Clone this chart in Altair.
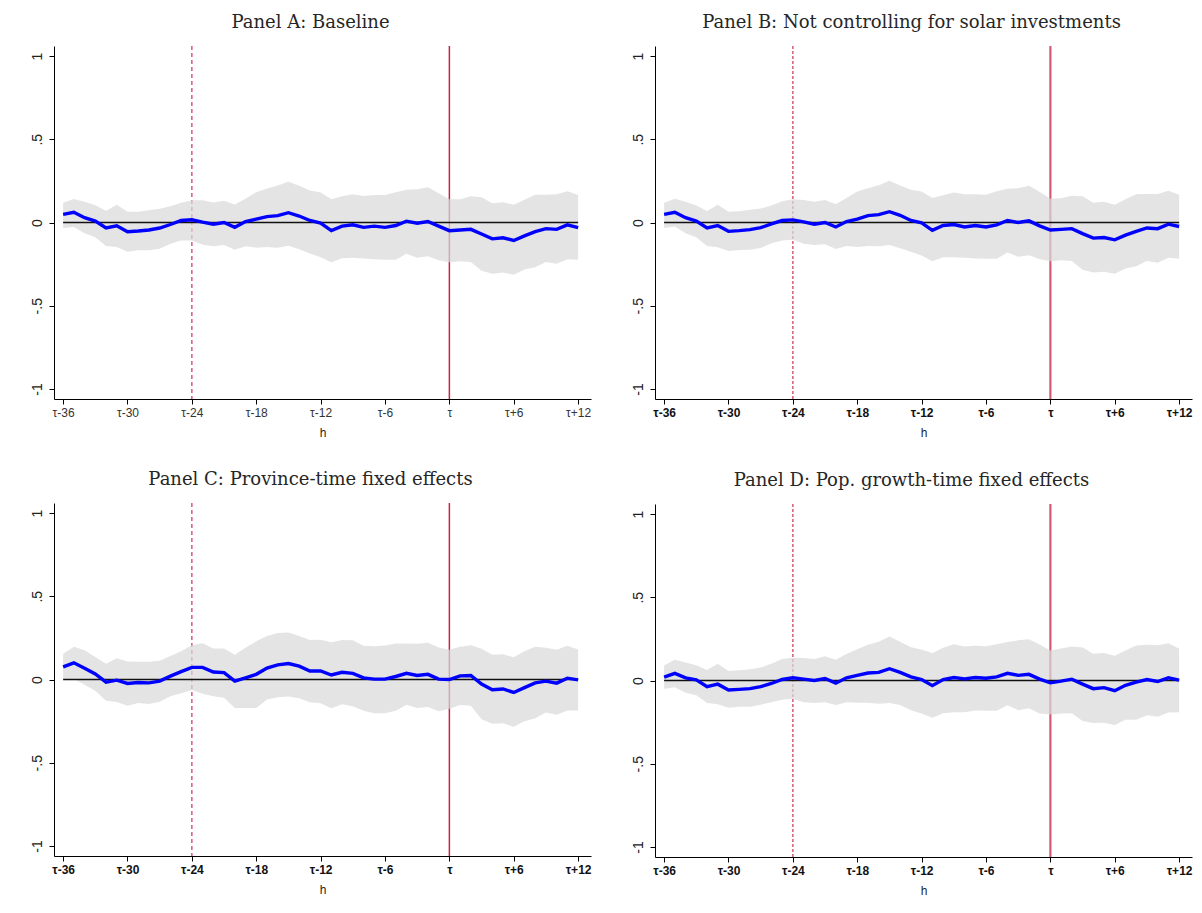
import altair as alt
import pandas as pd

# Horizon in months relative to the event month tau
h = list(range(-36, 13))

# Panel A: Baseline
a_est = [0.049, 0.061, 0.029, 0.008, -0.033, -0.020, -0.055, -0.051, -0.045, -0.033,
         -0.012, 0.012, 0.016, 0.002, -0.010, 0.000, -0.029, 0.006, 0.020, 0.035,
         0.041, 0.059, 0.039, 0.012, -0.004, -0.049, -0.022, -0.014, -0.029, -0.022,
         -0.029, -0.018, 0.008, -0.004, 0.006, -0.022, -0.049, -0.045, -0.041, -0.069,
         -0.098, -0.092, -0.108, -0.080, -0.055, -0.037, -0.041, -0.014, -0.031]
a_hi = [0.118, 0.141, 0.124, 0.104, 0.071, 0.106, 0.065, 0.065, 0.073, 0.082,
        0.098, 0.118, 0.133, 0.133, 0.120, 0.131, 0.108, 0.143, 0.182, 0.204,
        0.222, 0.245, 0.220, 0.192, 0.180, 0.139, 0.157, 0.169, 0.159, 0.165,
        0.165, 0.182, 0.196, 0.200, 0.212, 0.176, 0.139, 0.139, 0.157, 0.151,
        0.116, 0.122, 0.106, 0.137, 0.167, 0.167, 0.169, 0.188, 0.165]
a_lo = [-0.033, -0.027, -0.065, -0.088, -0.141, -0.147, -0.176, -0.167, -0.167, -0.157,
        -0.127, -0.108, -0.108, -0.133, -0.143, -0.135, -0.163, -0.143, -0.151, -0.147,
        -0.151, -0.139, -0.161, -0.186, -0.208, -0.239, -0.214, -0.212, -0.216, -0.220,
        -0.224, -0.224, -0.188, -0.212, -0.202, -0.227, -0.239, -0.233, -0.237, -0.290,
        -0.308, -0.300, -0.314, -0.282, -0.269, -0.237, -0.247, -0.220, -0.224]

# Panel B: Not controlling for solar investments
b_est = [0.049, 0.061, 0.029, 0.008, -0.033, -0.018, -0.053, -0.049, -0.043, -0.031,
         -0.008, 0.012, 0.016, 0.004, -0.010, 0.000, -0.027, 0.006, 0.020, 0.041,
         0.047, 0.065, 0.043, 0.012, -0.002, -0.047, -0.018, -0.012, -0.027, -0.018,
         -0.027, -0.014, 0.012, 0.000, 0.010, -0.020, -0.045, -0.041, -0.037, -0.067,
         -0.094, -0.090, -0.104, -0.076, -0.053, -0.033, -0.037, -0.010, -0.024]
b_hi = [0.118, 0.143, 0.124, 0.102, 0.069, 0.106, 0.065, 0.067, 0.076, 0.084,
        0.102, 0.127, 0.139, 0.135, 0.124, 0.135, 0.110, 0.147, 0.186, 0.206,
        0.224, 0.251, 0.222, 0.196, 0.186, 0.147, 0.163, 0.180, 0.169, 0.169,
        0.167, 0.188, 0.202, 0.206, 0.220, 0.184, 0.143, 0.145, 0.161, 0.157,
        0.118, 0.124, 0.106, 0.139, 0.169, 0.171, 0.171, 0.190, 0.167]
b_lo = [-0.033, -0.024, -0.065, -0.088, -0.141, -0.149, -0.171, -0.165, -0.163, -0.153,
        -0.124, -0.108, -0.104, -0.127, -0.135, -0.131, -0.159, -0.141, -0.147, -0.141,
        -0.143, -0.135, -0.155, -0.176, -0.198, -0.233, -0.208, -0.208, -0.212, -0.216,
        -0.218, -0.218, -0.180, -0.206, -0.196, -0.220, -0.233, -0.227, -0.231, -0.284,
        -0.300, -0.296, -0.308, -0.276, -0.263, -0.231, -0.241, -0.212, -0.218]

# Panel C: Province-time fixed effects
c_est = [0.076, 0.100, 0.067, 0.033, -0.016, -0.004, -0.024, -0.018, -0.020, -0.010,
         0.020, 0.047, 0.073, 0.073, 0.045, 0.041, -0.010, 0.010, 0.031, 0.069,
         0.088, 0.096, 0.080, 0.051, 0.051, 0.027, 0.043, 0.037, 0.010, 0.002,
         0.002, 0.018, 0.037, 0.024, 0.031, 0.002, 0.000, 0.022, 0.024, -0.027,
         -0.061, -0.057, -0.078, -0.049, -0.020, -0.010, -0.022, 0.008, -0.002]
c_hi = [0.155, 0.196, 0.176, 0.135, 0.094, 0.127, 0.108, 0.106, 0.106, 0.112,
        0.141, 0.169, 0.206, 0.218, 0.186, 0.186, 0.149, 0.190, 0.229, 0.261,
        0.280, 0.282, 0.261, 0.237, 0.239, 0.224, 0.237, 0.235, 0.202, 0.200,
        0.204, 0.216, 0.216, 0.214, 0.220, 0.192, 0.178, 0.196, 0.206, 0.184,
        0.149, 0.151, 0.133, 0.169, 0.196, 0.190, 0.178, 0.202, 0.180]
c_lo = [0.002, 0.004, -0.031, -0.067, -0.127, -0.135, -0.157, -0.141, -0.147, -0.133,
        -0.100, -0.082, -0.063, -0.086, -0.100, -0.110, -0.171, -0.171, -0.171, -0.120,
        -0.106, -0.102, -0.112, -0.137, -0.143, -0.173, -0.149, -0.161, -0.188, -0.202,
        -0.202, -0.188, -0.151, -0.171, -0.165, -0.190, -0.176, -0.153, -0.157, -0.239,
        -0.265, -0.263, -0.284, -0.251, -0.233, -0.198, -0.212, -0.186, -0.186]

# Panel D: Pop. growth-time fixed effects
d_est = [0.020, 0.043, 0.016, 0.004, -0.037, -0.022, -0.057, -0.053, -0.049, -0.037,
         -0.018, 0.006, 0.016, 0.008, 0.000, 0.012, -0.016, 0.016, 0.031, 0.045,
         0.049, 0.071, 0.049, 0.022, 0.006, -0.031, 0.006, 0.018, 0.010, 0.018,
         0.014, 0.022, 0.043, 0.031, 0.037, 0.008, -0.014, -0.004, 0.008, -0.022,
         -0.049, -0.043, -0.061, -0.029, -0.010, 0.006, -0.006, 0.016, 0.002]
d_hi = [0.090, 0.124, 0.108, 0.092, 0.063, 0.100, 0.057, 0.061, 0.067, 0.078,
        0.100, 0.129, 0.137, 0.135, 0.129, 0.145, 0.124, 0.159, 0.188, 0.214,
        0.233, 0.265, 0.233, 0.200, 0.186, 0.163, 0.196, 0.218, 0.204, 0.208,
        0.206, 0.218, 0.231, 0.241, 0.247, 0.216, 0.180, 0.192, 0.204, 0.198,
        0.161, 0.165, 0.149, 0.180, 0.210, 0.214, 0.212, 0.224, 0.190]
d_lo = [-0.049, -0.041, -0.073, -0.088, -0.135, -0.143, -0.163, -0.157, -0.157, -0.145,
        -0.131, -0.116, -0.110, -0.131, -0.135, -0.131, -0.147, -0.131, -0.133, -0.133,
        -0.139, -0.135, -0.147, -0.178, -0.198, -0.224, -0.196, -0.190, -0.190, -0.180,
        -0.182, -0.182, -0.149, -0.178, -0.167, -0.198, -0.204, -0.198, -0.196, -0.243,
        -0.255, -0.253, -0.267, -0.235, -0.235, -0.208, -0.218, -0.192, -0.190]

titles = [
    "Panel A: Baseline",
    "Panel B: Not controlling for solar investments",
    "Panel C: Province-time fixed effects",
    "Panel D: Pop. growth-time fixed effects",
]

x_tick_values = [-36, -30, -24, -18, -12, -6, 0, 6, 12]
x_tick_labels = ["τ-36", "τ-30", "τ-24", "τ-18", "τ-12", "τ-6", "τ", "τ+6", "τ+12"]
y_tick_values = [-1, -0.5, 0, 0.5, 1]
y_tick_labels = ["-1", "-.5", "0", ".5", "1"]

# Reference months: start of the pre-event window (dashed) and event month (solid)
window_start = [-24]
event_month = [0]


def label_expr(values, labels):
    parts = [f"datum.value == {v} ? '{lab}'" for v, lab in zip(values, labels)]
    return " : ".join(parts) + " : ''"


def panel(title, est, lo, hi, bold, solid_color, solid_width, dash):
    df = pd.DataFrame({"h": h, "est": est, "lo": lo, "hi": hi})
    zero_df = pd.DataFrame({"h0": [h[0]], "h1": [h[-1]], "v": [0]})

    weight = "bold" if bold else "normal"
    label_color = "#111111" if bold else "#333333"
    xscale = alt.Scale(domain=[-36.85, 13.2], nice=False, zero=False)
    yscale = alt.Scale(domain=[-1.06, 1.06], nice=False, zero=False)
    xaxis = alt.Axis(
        values=x_tick_values, labelExpr=label_expr(x_tick_values, x_tick_labels),
        title="h", grid=False, domainColor="#000000", tickColor="#000000",
        tickSize=5, labelFont="Liberation Sans", labelFontSize=12,
        labelFontWeight=weight, labelColor=label_color, labelPadding=3,
        titleFont="Liberation Sans", titleFontSize=12, titleFontWeight="normal",
        titleColor="#222222", titlePadding=9, labelOverlap=False,
    )
    yaxis = alt.Axis(
        values=y_tick_values, labelExpr=label_expr(y_tick_values, y_tick_labels),
        title=None, grid=False, domainColor="#000000", tickColor="#000000",
        tickSize=5, labelFont="Liberation Sans", labelFontSize=14,
        labelFontWeight="normal", labelColor="#222222", labelAngle=270,
        labelAlign="center", labelBaseline="bottom", labelPadding=5,
        labelOverlap=False,
    )
    x_enc = alt.X("h:Q", scale=xscale, axis=xaxis)

    dashed = alt.Chart(pd.DataFrame({"h": window_start})).mark_rule(
        color="#d4506c", strokeWidth=1.4, strokeDash=dash
    ).encode(x=x_enc)
    solid = alt.Chart(pd.DataFrame({"h": event_month})).mark_rule(
        color=solid_color, strokeWidth=solid_width
    ).encode(x=x_enc)
    band = alt.Chart(df).mark_area(color="#d9d9d9", opacity=0.72).encode(
        x=x_enc,
        y=alt.Y("lo:Q", scale=yscale, axis=yaxis),
        y2="hi:Q",
    )
    zero = alt.Chart(zero_df).mark_rule(color="#111111", strokeWidth=1.3).encode(
        x=alt.X("h0:Q", scale=xscale, axis=xaxis),
        x2="h1:Q",
        y=alt.Y("v:Q", scale=yscale, axis=yaxis),
    )
    line = alt.Chart(df).mark_line(color="#0000ff", strokeWidth=3.4).encode(
        x=x_enc,
        y=alt.Y("est:Q", scale=yscale, axis=yaxis),
    )
    return alt.layer(dashed, solid, band, zero, line).properties(
        width=537,
        height=353,
        title=alt.TitleParams(
            text=title, font="DejaVu Serif", fontSize=18, fontWeight="normal",
            color="#262626", anchor="middle", frame="bounds", offset=13,
        ),
    )


pa = panel(titles[0], a_est, a_lo, a_hi, False, "#c8224a", 1.5, [4, 3])
pb = panel(titles[1], b_est, b_lo, b_hi, True, "#d45a74", 2.2, [3, 2])
pc = panel(titles[2], c_est, c_lo, c_hi, True, "#c8224a", 1.5, [4, 3])
pd_ = panel(titles[3], d_est, d_lo, d_hi, True, "#d45a74", 2.2, [3, 2])

left_col = alt.vconcat(pa, pc, spacing=33)
right_col = alt.vconcat(pb, pd_, spacing=33)

chart = alt.hconcat(left_col, right_col, spacing=40).properties(
    padding={"left": 30, "top": 13, "right": 5, "bottom": 5},
    background="#ffffff",
).configure_view(stroke=None)

chart.save("out.html", embed_options={"renderer": "svg", "actions": False})
